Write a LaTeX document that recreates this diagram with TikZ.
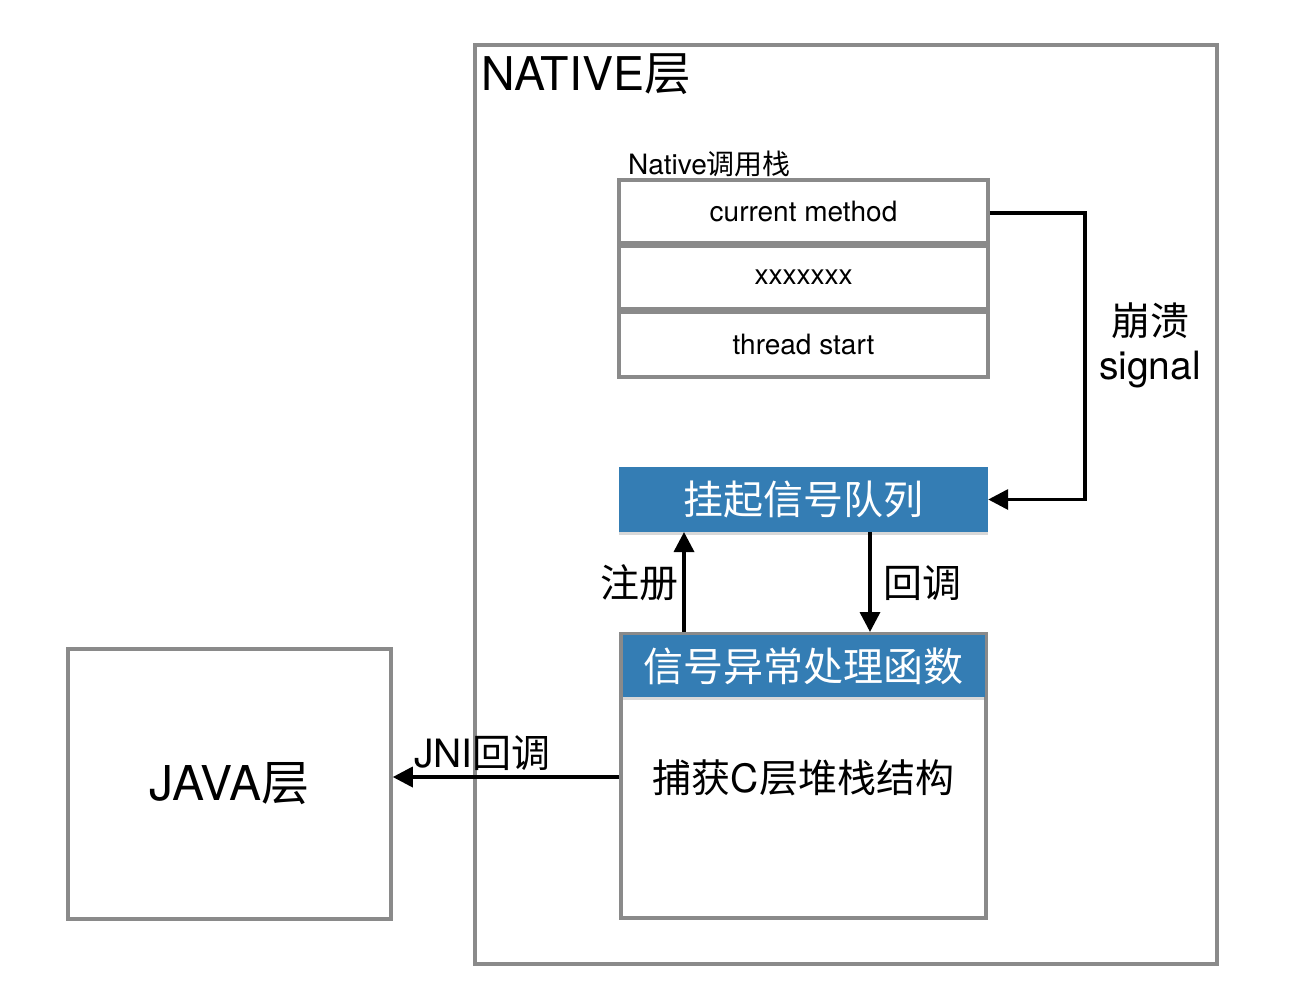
\documentclass[tikz,border=0pt]{standalone}
\usepackage{fontspec}
\setmainfont{TeX Gyre Heros}
\newfontfamily\cjk{Noto Sans CJK SC}
\usetikzlibrary{arrows.meta,shadows}
\definecolor{boxgray}{RGB}{138,138,138}
\definecolor{qblue}{RGB}{52,125,180}
\begin{document}
\begin{tikzpicture}[x=1pt,y=-1pt,
  graybox/.style={draw=boxgray,line width=3.5pt,fill=white,inner sep=0pt},
  bluebox/.style={fill=qblue,draw=none,inner sep=0pt,text=white,
     drop shadow={opacity=0.3,shadow xshift=0pt,shadow yshift=-3pt}},
  conn/.style={line width=3.5pt,-{Triangle[length=20pt,width=20pt]}},
  stacktxt/.style={font=\fontsize{28}{32}\selectfont},
  bigtxt/.style={font=\fontsize{39}{46}\selectfont},
]
\useasboundingbox (0,0) rectangle (1296,1004);
\fill[white] (0,0) rectangle (1296,1004);

% outer NATIVE box
\node[graybox,fill=none,minimum width=742pt,minimum height=919pt] (native) at (846,504.5) {};
\node[anchor=north west,inner sep=0pt,font=\fontsize{46.5}{54}\selectfont] (nativelbl) at (481,53) {NATIVE{\cjk 层}};

% call stack
\node[anchor=south west,inner sep=0pt,font=\fontsize{28}{32}\selectfont] (stacklbl) at (628,177) {Native{\cjk 调用栈}};
\node[graybox,stacktxt,minimum width=369pt,minimum height=63pt] (s1) at (803.5,211.5) {current method};
\node[graybox,stacktxt,minimum width=369pt,minimum height=63pt] (s2) at (803.5,277.5) {xxxxxxx};
\node[graybox,stacktxt,minimum width=369pt,minimum height=65pt] (s3) at (803.5,344.5) {thread start};

% pending signal queue
\node[bluebox,minimum width=369pt,minimum height=65pt,font=\cjk\fontsize{40}{46}\selectfont] (queue) at (803.5,499.5) {挂起信号队列};

% handler
\node[graybox,minimum width=365pt,minimum height=284pt] (handler) at (803.5,776) {};
\node[bluebox,minimum width=362pt,minimum height=62pt,font=\cjk\fontsize{40}{46}\selectfont] (header) at (803.5,666) {信号异常处理函数};
\node[bigtxt,inner sep=0pt] (capture) at (803.5,778) {{\cjk 捕获}C{\cjk 层堆栈结构}};

% Java layer
\node[graybox,minimum width=323pt,minimum height=270pt,font=\fontsize{48}{56}\selectfont] (java) at (229.5,784) {JAVA{\cjk 层}};

% connectors
\coordinate (turn) at (1085,213);
\draw[conn] (s1.east |- turn) -- (turn) |- (queue.east);
\node[bigtxt,align=center] (crashlbl) at (1150,345) {{\cjk 崩溃}\\[-2pt]signal};

\draw[conn] (684,632) -- (684,532);
\node[bigtxt,anchor=east,inner sep=0pt] (reglbl) at (679,583) {\cjk 注册};
\draw[conn] (870,532) -- (870,632);
\node[bigtxt,anchor=west,inner sep=0pt] (cblbl) at (883,583) {\cjk 回调};

\draw[conn] (handler.west |- 0,777) -- (java.east |- 0,777);
\node[bigtxt,anchor=south west,inner sep=0pt] (jnilbl) at (414,771) {JNI{\cjk 回调}};
\end{tikzpicture}
\end{document}
